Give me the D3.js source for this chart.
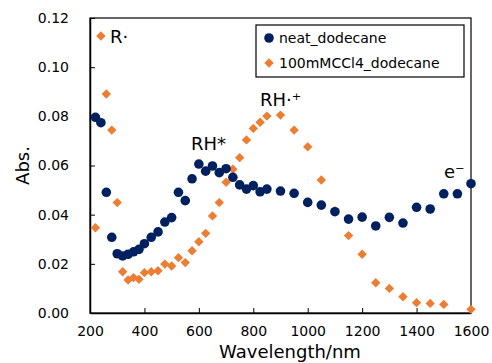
<!DOCTYPE html>
<html>
<head>
<meta charset="utf-8">
<script src="https://cdn.jsdelivr.net/npm/d3@7"></script>
<style>
  body { margin: 0; background: #fff; }
  svg { display: block; font-family: "DejaVu Sans", Verdana, sans-serif; }
</style>
</head>
<body>
<svg id="chart"></svg>
<script>
// wavelengths (nm) and absorbance
const neatWl = [220, 240, 260, 280, 300, 320, 340, 360, 380, 400, 425, 450, 475, 500, 525, 550, 575,
  600, 625, 650, 675, 700, 725, 750, 775, 800, 825, 850, 900, 950, 1000, 1050, 1100, 1150, 1200,
  1250, 1300, 1350, 1400, 1450, 1500, 1550, 1600];
const neatAbs = [0.0796, 0.0774, 0.0491, 0.0308, 0.0241, 0.0232, 0.0239, 0.0249, 0.0259, 0.0282,
  0.0308, 0.0330, 0.0370, 0.0388, 0.0491, 0.0457, 0.0546, 0.0606, 0.0577, 0.0598, 0.0571, 0.0587,
  0.0552, 0.0521, 0.0504, 0.0518, 0.0493, 0.0504, 0.0496, 0.0487, 0.0450, 0.0439, 0.0412, 0.0382,
  0.0390, 0.0354, 0.0389, 0.0366, 0.0430, 0.0423, 0.0485, 0.0485, 0.0526];

const cclWl = [220, 240, 260, 280, 300, 320, 340, 360, 380, 400, 425, 450, 475, 500, 525, 550, 575,
  600, 625, 650, 675, 700, 725, 750, 775, 800, 825, 850, 900, 950, 1000, 1050, 1100, 1150, 1200,
  1250, 1300, 1350, 1400, 1450, 1500, 1600];
const cclAbs = [0.0347, 0.1127, 0.0891, 0.0744, 0.0449, 0.0168, 0.0134, 0.0144, 0.0137, 0.0164,
  0.0168, 0.0172, 0.0199, 0.0191, 0.0225, 0.0205, 0.0253, 0.0290, 0.0324, 0.0395, 0.0449, 0.0532,
  0.0585, 0.0632, 0.0704, 0.0751, 0.0776, 0.0801, 0.0805, 0.0744, 0.0676, 0.0541, 0.0416, 0.0315,
  0.0239, 0.0123, 0.0100, 0.0066, 0.0042, 0.0039, 0.0035, 0.0015];

const xTicks = [200, 400, 600, 800, 1000, 1200, 1400, 1600];
const yTicks = [0, 0.02, 0.04, 0.06, 0.08, 0.10, 0.12];

const seriesNames = ["neat_dodecane", "100mMCCl4_dodecane"];
const colors = ["#002060", "#ED7D31"];

const width = 492, height = 363;
const margin = { top: 18, right: 21, bottom: 50, left: 90 };

const svg = d3.select("#chart").attr("width", width).attr("height", height);

const x = d3.scaleLinear().domain([200, 1600]).range([margin.left, width - margin.right]);
const y = d3.scaleLinear().domain([0, 0.12]).range([height - margin.bottom, margin.top]);

// frame
svg.append("rect")
  .attr("x", x(200)).attr("y", y(0.12))
  .attr("width", x(1600) - x(200)).attr("height", y(0) - y(0.12))
  .attr("fill", "none").attr("stroke", "#000").attr("stroke-width", 1.2);

const xAxis = svg.append("g")
  .attr("transform", `translate(0,${y(0)})`)
  .call(d3.axisBottom(x).tickValues(xTicks).tickFormat(d3.format("d"))
    .tickSizeInner(-5).tickSizeOuter(0).tickPadding(13));
xAxis.select(".domain").attr("stroke-width", 1.5);
xAxis.selectAll("text").attr("font-size", 14).attr("fill", "#000").attr("font-family", "DejaVu Sans");

const yAxis = svg.append("g")
  .attr("transform", `translate(${x(200)},0)`)
  .call(d3.axisLeft(y).tickValues(yTicks).tickFormat(d3.format(".2f"))
    .tickSizeInner(-5).tickSizeOuter(0).tickPadding(21));
yAxis.select(".domain").attr("stroke-width", 1.5);
yAxis.selectAll("text").attr("font-size", 14).attr("fill", "#000").attr("font-family", "DejaVu Sans");

// axis titles
svg.append("text")
  .attr("x", 290).attr("y", 358)
  .attr("text-anchor", "middle").attr("font-size", 18)
  .text("Wavelength/nm");

svg.append("text")
  .attr("transform", `translate(29,${(y(0) + y(0.12)) / 2}) rotate(-90)`)
  .attr("text-anchor", "middle").attr("font-size", 18)
  .text("Abs.");

// series
const diamond = d3.symbol().type(d3.symbolDiamond2).size(56);

svg.append("g").selectAll("path")
  .data(d3.zip(cclWl, cclAbs))
  .join("path")
  .attr("transform", d => `translate(${x(d[0])},${y(d[1])})`)
  .attr("d", diamond)
  .attr("fill", colors[1]);

svg.append("g").selectAll("circle")
  .data(d3.zip(neatWl, neatAbs))
  .join("circle")
  .attr("cx", d => x(d[0]))
  .attr("cy", d => y(d[1]))
  .attr("r", 4.8)
  .attr("fill", colors[0]);

// annotations
const notes = [
  { t: "R·", x: 110, y: 43 },
  { t: "RH*", x: 191, y: 150 },
  { t: "RH·⁺", x: 260, y: 106 },
  { t: "e⁻", x: 444, y: 178 }
];
svg.append("g").selectAll("text")
  .data(notes)
  .join("text")
  .attr("x", d => d.x).attr("y", d => d.y)
  .attr("font-size", 18)
  .text(d => d.t);

// legend
const lg = svg.append("g");
lg.append("rect")
  .attr("x", 256).attr("y", 25).attr("width", 208).attr("height", 52)
  .attr("fill", "#fff").attr("stroke", "#000").attr("stroke-width", 1.2);
lg.append("circle").attr("cx", 269).attr("cy", 38).attr("r", 4.8).attr("fill", colors[0]);
lg.append("path").attr("transform", "translate(269,63)").attr("d", diamond).attr("fill", colors[1]);
lg.selectAll("text.lab")
  .data(seriesNames)
  .join("text")
  .attr("class", "lab")
  .attr("x", 279).attr("y", (d, i) => 43 + i * 25)
  .attr("font-size", 14)
  .text(d => d);
</script>
</body>
</html>
